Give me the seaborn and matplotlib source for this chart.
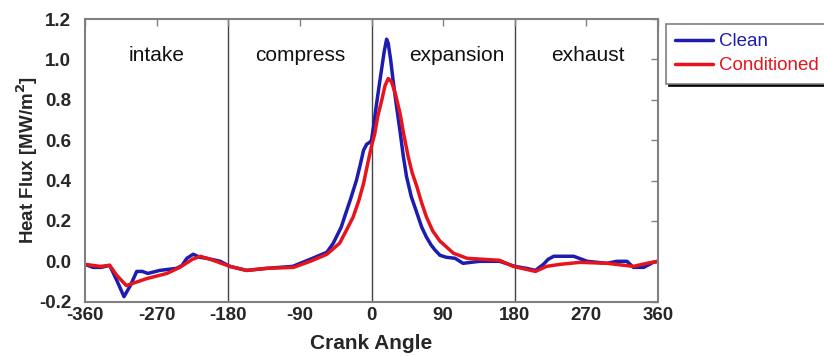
import numpy as np
import pandas as pd
import matplotlib
matplotlib.use("Agg")
import matplotlib.pyplot as plt
import seaborn as sns
from matplotlib.lines import Line2D

# ---- data ----
clean_angle = [-360, -350, -340, -329, -320, -311, -303, -295, -288, -281, -266, -245,
               -238, -232, -224, -216, -207, -190, -178, -157, -132, -99, -77, -56,
               -48, -43, -38, -33, -27, -19, -14, -10, -6, -2, 0, 3, 6, 10, 13, 16,
               19, 21, 24, 27, 31, 36, 40, 44, 50, 57, 63, 69, 75, 80, 86, 94, 105,
               115, 125, 136, 161, 180, 195, 206, 216, 222, 229, 254, 271, 296, 308,
               321, 329, 342, 354, 360]
clean_flux = [-0.015, -0.03, -0.03, -0.02, -0.095, -0.175, -0.12, -0.05, -0.05, -0.06,
              -0.045, -0.035, -0.02, 0.015, 0.035, 0.02, 0.015, 0.0, -0.025, -0.045,
              -0.035, -0.025, 0.01, 0.045, 0.09, 0.13, 0.17, 0.23, 0.30, 0.40, 0.48,
              0.55, 0.58, 0.59, 0.60, 0.68, 0.77, 0.88, 0.96, 1.04, 1.10, 1.08, 1.00,
              0.90, 0.78, 0.64, 0.52, 0.42, 0.32, 0.24, 0.17, 0.12, 0.08, 0.055, 0.03,
              0.02, 0.015, -0.01, -0.005, 0.0, 0.0, -0.025, -0.035, -0.045, -0.015,
              0.01, 0.025, 0.025, 0.0, -0.01, 0.0, 0.0, -0.03, -0.03, -0.005, 0.0]

cond_angle = [-360, -341, -329, -320, -308, -282, -257, -241, -225, -215, -199, -178,
              -157, -132, -98, -77, -56, -40, -32, -23, -16, -10, -5, 0, 4, 8, 13,
              17, 21, 25, 30, 36, 40, 46, 51, 57, 63, 69, 77, 86, 103, 120, 161, 178,
              206, 220, 237, 262, 296, 329, 346, 360]
cond_flux = [-0.015, -0.025, -0.02, -0.07, -0.12, -0.085, -0.06, -0.03, 0.01, 0.025,
             0.005, -0.025, -0.045, -0.035, -0.03, 0.0, 0.035, 0.09, 0.15, 0.22, 0.30,
             0.385, 0.48, 0.57, 0.63, 0.72, 0.80, 0.87, 0.905, 0.89, 0.83, 0.73, 0.64,
             0.52, 0.44, 0.37, 0.29, 0.22, 0.15, 0.10, 0.04, 0.015, 0.005, -0.025,
             -0.05, -0.025, -0.015, -0.005, -0.01, -0.025, -0.01, 0.0]

series_names = ["Clean", "Conditioned"]
series_colors = ["#1c1cb0", "#e8141c"]

phase_labels = ["intake", "compress", "expansion", "exhaust"]
phase_x = [-270, -90, 107, 272]
phase_bounds = [-180, 0, 180]

x_ticks = [-360, -270, -180, -90, 0, 90, 180, 270, 360]
y_ticks = [-0.2, 0.0, 0.2, 0.4, 0.6, 0.8, 1.0, 1.2]

df = pd.concat([
    pd.DataFrame({"angle": clean_angle, "flux": clean_flux, "series": series_names[0]}),
    pd.DataFrame({"angle": cond_angle, "flux": cond_flux, "series": series_names[1]}),
], ignore_index=True)

sns.set_style("white")
plt.rcParams["font.family"] = ["Liberation Sans", "DejaVu Sans"]

fig = plt.figure(figsize=(8.24, 3.56), dpi=100)
ax = fig.add_axes([85/824, 1-301.7/356, (658-85)/824, (301.7-19)/356])

sns.lineplot(data=df, x="angle", y="flux", hue="series", palette=series_colors,
             hue_order=series_names, estimator=None, sort=False, lw=2.5, ax=ax,
             legend=False)

for b in phase_bounds:
    ax.axvline(b, color="#444444", lw=1.0, zorder=0)

for lab, xp in zip(phase_labels, phase_x):
    ax.text(xp, 1.02, lab, ha="center", va="center", fontsize=15, color="#111111")

ax.set_xlim(-360, 360)
ax.set_ylim(-0.2, 1.2)
ax.set_xticks(x_ticks)
ax.set_yticks(y_ticks)
ax.set_xticklabels([str(v) for v in x_ticks], fontsize=13.5, fontweight="bold")
ax.set_yticklabels([f"{v:.1f}" for v in y_ticks], fontsize=13.5, fontweight="bold")
ax.tick_params(direction="in", length=5, width=1, color="#808080",
               top=True, right=True)
ax.tick_params(axis="x", pad=4)
ax.tick_params(axis="y", pad=10)
for s in ax.spines.values():
    s.set_color("#808080")
    s.set_linewidth(1.5)

ax.set_xlabel("Crank Angle", fontsize=15, fontweight="bold", labelpad=7)
ax.set_ylabel("Heat Flux [MW/m$^\\mathbf{2}$]", fontsize=13.5, fontweight="bold", labelpad=-1)

handles = [Line2D([], [], color=c, lw=2.5) for c in series_colors]
leg = ax.legend(handles, series_names, loc="upper left",
                bbox_to_anchor=(666/824, 1-24/356), bbox_transform=fig.transFigure,
                fontsize=13.5, frameon=True, fancybox=False, borderaxespad=0,
                handlelength=2.0, handletextpad=0.3, borderpad=0.5, labelspacing=0.35,
                shadow={"color": "black", "alpha": 1})
leg.get_frame().set_edgecolor("#808080")
leg.get_frame().set_linewidth(1.2)
for t, c in zip(leg.get_texts(), series_colors):
    t.set_color(c)

fig.savefig("out.png", dpi=100)
